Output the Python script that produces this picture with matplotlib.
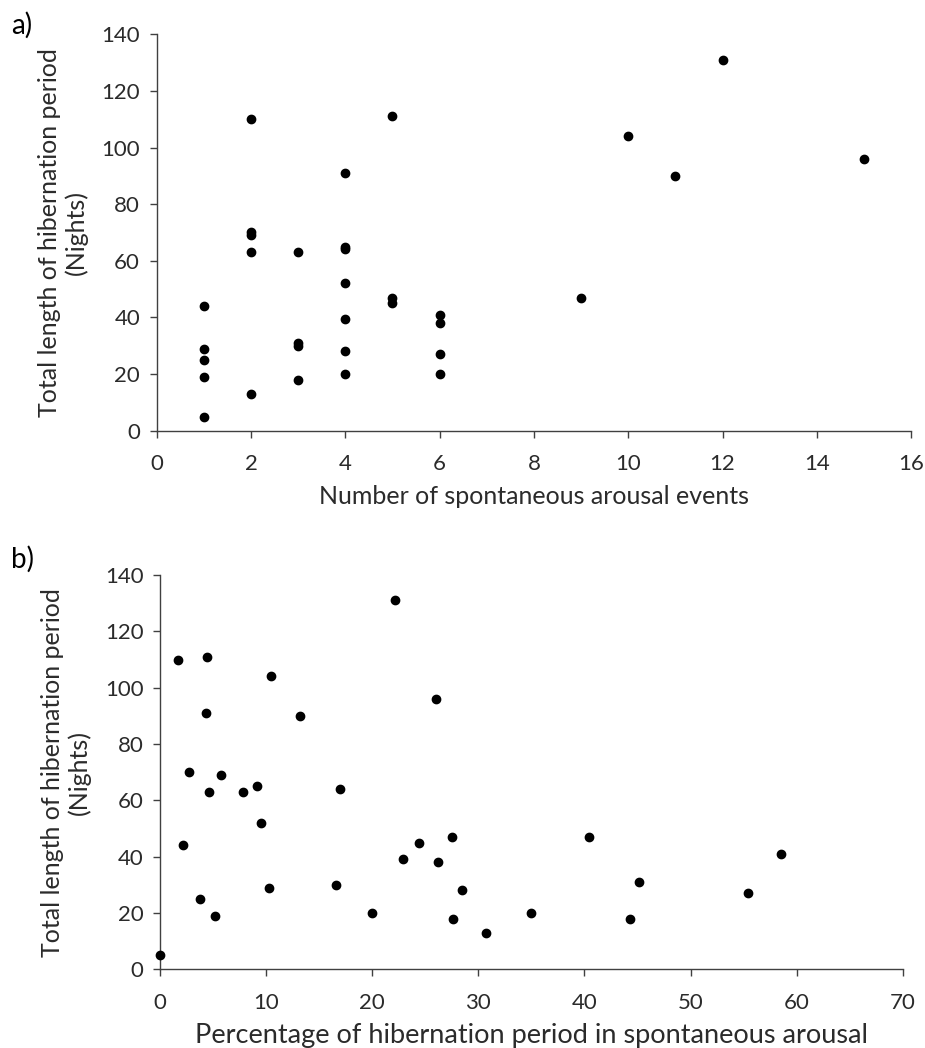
import matplotlib
matplotlib.use("Agg")
import matplotlib.pyplot as plt
import numpy as np

plt.rcParams['font.family'] = ['Lato', 'DejaVu Sans']

# panel a) number of spontaneous arousal events vs total hibernation length
arousals = [1, 1, 1, 1, 1,
            2, 2, 2, 2, 2,
            3, 3, 3, 3,
            4, 4, 4, 4, 4, 4, 4,
            5, 5, 5,
            6, 6, 6, 6,
            9, 10, 11, 12, 15]
nights_a = [44, 29, 25, 19, 5,
            110, 70, 69, 63, 13,
            63, 31, 30, 18,
            91, 65, 64, 52, 39.5, 28, 20,
            111, 47, 45,
            41, 38, 27, 20,
            47, 104, 90, 131, 96]

# panel b) percentage of hibernation period in spontaneous arousal
percent = [0, 1.7, 4.4, 10.5, 4.3, 13.2, 22.1, 26.0, 2.7, 5.7,
           4.6, 7.8, 9.1, 17.0, 9.5, 2.2, 24.4, 27.5, 22.9, 26.2,
           10.3, 16.6, 28.5, 3.8, 5.2, 20.0, 27.6, 30.7, 35.0,
           40.4, 45.1, 44.3, 55.4, 58.5]
nights_b = [5, 110, 111, 104, 91, 90, 131, 96, 70, 69,
            63, 63, 65, 64, 52, 44, 45, 47, 39, 38,
            29, 30, 28, 25, 19, 20, 18, 13, 20,
            47, 31, 18, 27, 41]

txt = '#2b2b2b'
axcol = '#404040'
ylab = "Total length of hibernation period\n(Nights)"

fig = plt.figure(figsize=(9.25, 10.48), dpi=100)
ax1 = fig.add_axes([0.1694, 0.589, 0.8156, 0.3783])
ax2 = fig.add_axes([0.173, 0.0751, 0.803, 0.3762])


def style(ax, xmax, xstep):
    ax.set_xlim(0, xmax)
    ax.set_ylim(0, 140)
    ax.set_xticks(np.arange(0, xmax + 1, xstep))
    ax.set_yticks(np.arange(0, 141, 20))
    for s in ['top', 'right']:
        ax.spines[s].set_visible(False)
    for s in ['left', 'bottom']:
        ax.spines[s].set_color(axcol)
        ax.spines[s].set_linewidth(1.0)
    ax.tick_params(direction='out', length=5, width=1.0, color=axcol,
                   labelsize=16, labelcolor=txt)
    ax.tick_params(axis='x', pad=12)
    ax.tick_params(axis='y', pad=7)


ax1.scatter(arousals, nights_a, s=36, color='black', zorder=3, clip_on=False)
style(ax1, 16, 2)
ax1.set_xlabel("Number of spontaneous arousal events", fontsize=18, color=txt, labelpad=8)
ax1.set_ylabel(ylab, fontsize=18, color=txt, labelpad=10, linespacing=1.15)
fig.text(0.012, 0.976, "a)", fontsize=20, color='black', va='center', ha='left')

ax2.scatter(percent, nights_b, s=36, color='black', zorder=3, clip_on=False)
style(ax2, 70, 10)
ax2.set_xlabel("Percentage of hibernation period in spontaneous arousal", fontsize=19.5,
               color=txt, labelpad=7)
ax2.set_ylabel(ylab, fontsize=18, color=txt, labelpad=10, linespacing=1.15)
fig.text(0.012, 0.466, "b)", fontsize=20, color='black', va='center', ha='left')

fig.savefig("out.png", dpi=100)
